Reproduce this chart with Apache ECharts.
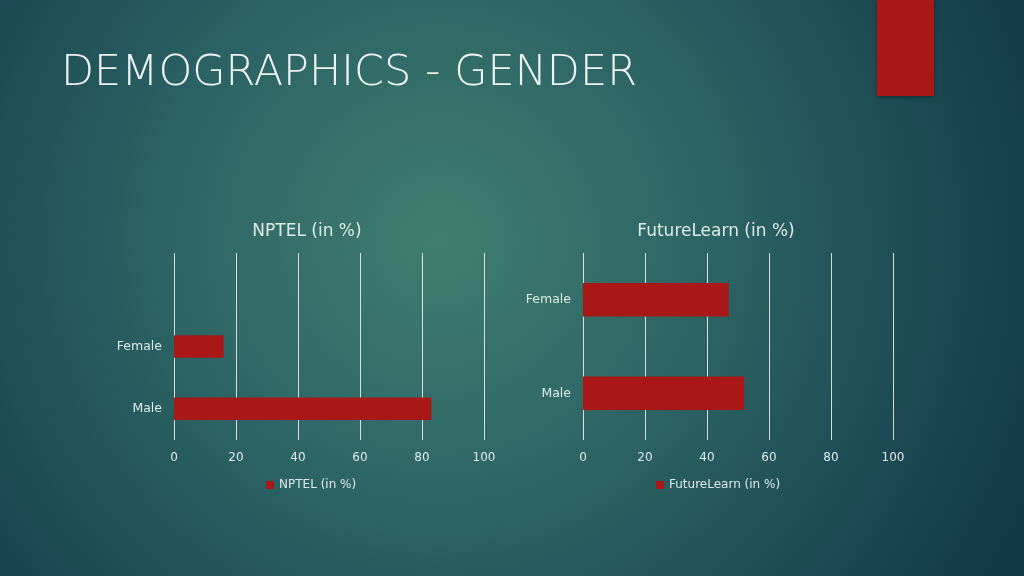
<!DOCTYPE html>
<html>
<head>
<meta charset="utf-8">
<script src="https://cdn.jsdelivr.net/npm/echarts@6/dist/echarts.min.js"></script>
<style>
  html, body { margin: 0; padding: 0; }
  #main { width: 1024px; height: 576px; }
</style>
</head>
<body>
<div id="main"></div>
<script>
// data
const pageTitle = 'DEMOGRAPHICS - GENDER'
const nptelName = 'NPTEL (in %)'
const nptelCategories = ['Male', 'Female', '']
const nptelValues = [83, 16, null]
const flName = 'FutureLearn (in %)'
const flCategories = ['Male', 'Female']
const flValues = [52, 47]
const xTicks = { min: 0, max: 100, interval: 20 }

const FONT = '"DejaVu Sans", sans-serif'
const RED = '#a91717'
const TXT = '#dfe9e7'

let chart = echarts.init(document.getElementById('main'), null, { renderer: 'canvas' })

function valueAxis(gridIndex) {
  return {
    type: 'value',
    gridIndex: gridIndex,
    min: xTicks.min,
    max: xTicks.max,
    interval: xTicks.interval,
    axisLine: { show: false },
    axisTick: { show: false },
    axisLabel: { color: TXT, fontFamily: FONT, fontSize: 12, margin: 12 },
    splitLine: { show: true, lineStyle: { color: 'rgba(255,255,255,0.8)', width: 1 } }
  }
}
function catAxis(gridIndex, cats) {
  return {
    type: 'category',
    gridIndex: gridIndex,
    data: cats,
    axisLine: { show: false },
    axisTick: { show: false },
    axisLabel: { color: TXT, fontFamily: FONT, fontSize: 12.5, margin: 12 }
  }
}

const option = {
  backgroundColor: {
    type: 'radial', x: 440, y: 240, r: 640, global: true,
    colorStops: [
      { offset: 0, color: '#3f7e70' },
      { offset: 0.45, color: '#2b6263' },
      { offset: 1, color: '#123848' }
    ]
  },
  title: [
    { text: pageTitle, left: 56, top: 47, textStyle: { color: '#eef3f2', fontFamily: FONT, fontSize: 43, fontWeight: 'lighter' } },
    { text: nptelName, left: 302, top: 218, textAlign: 'center', textStyle: { color: TXT, fontFamily: FONT, fontSize: 17, fontWeight: 'normal' } },
    { text: flName, left: 711, top: 218, textAlign: 'center', textStyle: { color: TXT, fontFamily: FONT, fontSize: 17, fontWeight: 'normal' } }
  ],
  graphic: [{
    type: 'rect',
    shape: { x: 877, y: 0, width: 57, height: 96 },
    style: { fill: RED, shadowBlur: 4, shadowColor: 'rgba(0,0,0,0.4)', shadowOffsetY: 1 }
  }],
  legend: [
    { data: [nptelName], left: 261, top: 474, icon: 'rect', itemWidth: 8, itemHeight: 8, itemGap: 4,
      textStyle: { color: TXT, fontFamily: FONT, fontSize: 12 } },
    { data: [flName], left: 651, top: 474, icon: 'rect', itemWidth: 8, itemHeight: 8, itemGap: 4,
      textStyle: { color: TXT, fontFamily: FONT, fontSize: 12 } }
  ],
  grid: [
    { left: 174, right: 540, top: 253, height: 187, containLabel: false },
    { left: 583, right: 131, top: 253, height: 187, containLabel: false }
  ],
  xAxis: [valueAxis(0), valueAxis(1)],
  yAxis: [catAxis(0, nptelCategories), catAxis(1, flCategories)],
  series: [
    { name: nptelName, type: 'bar', xAxisIndex: 0, yAxisIndex: 0, data: nptelValues, barWidth: '36%', itemStyle: { color: RED } },
    { name: flName, type: 'bar', xAxisIndex: 1, yAxisIndex: 1, data: flValues, barWidth: '36%', itemStyle: { color: RED } }
  ]
}
chart.setOption(option)
</script>
</body>
</html>
